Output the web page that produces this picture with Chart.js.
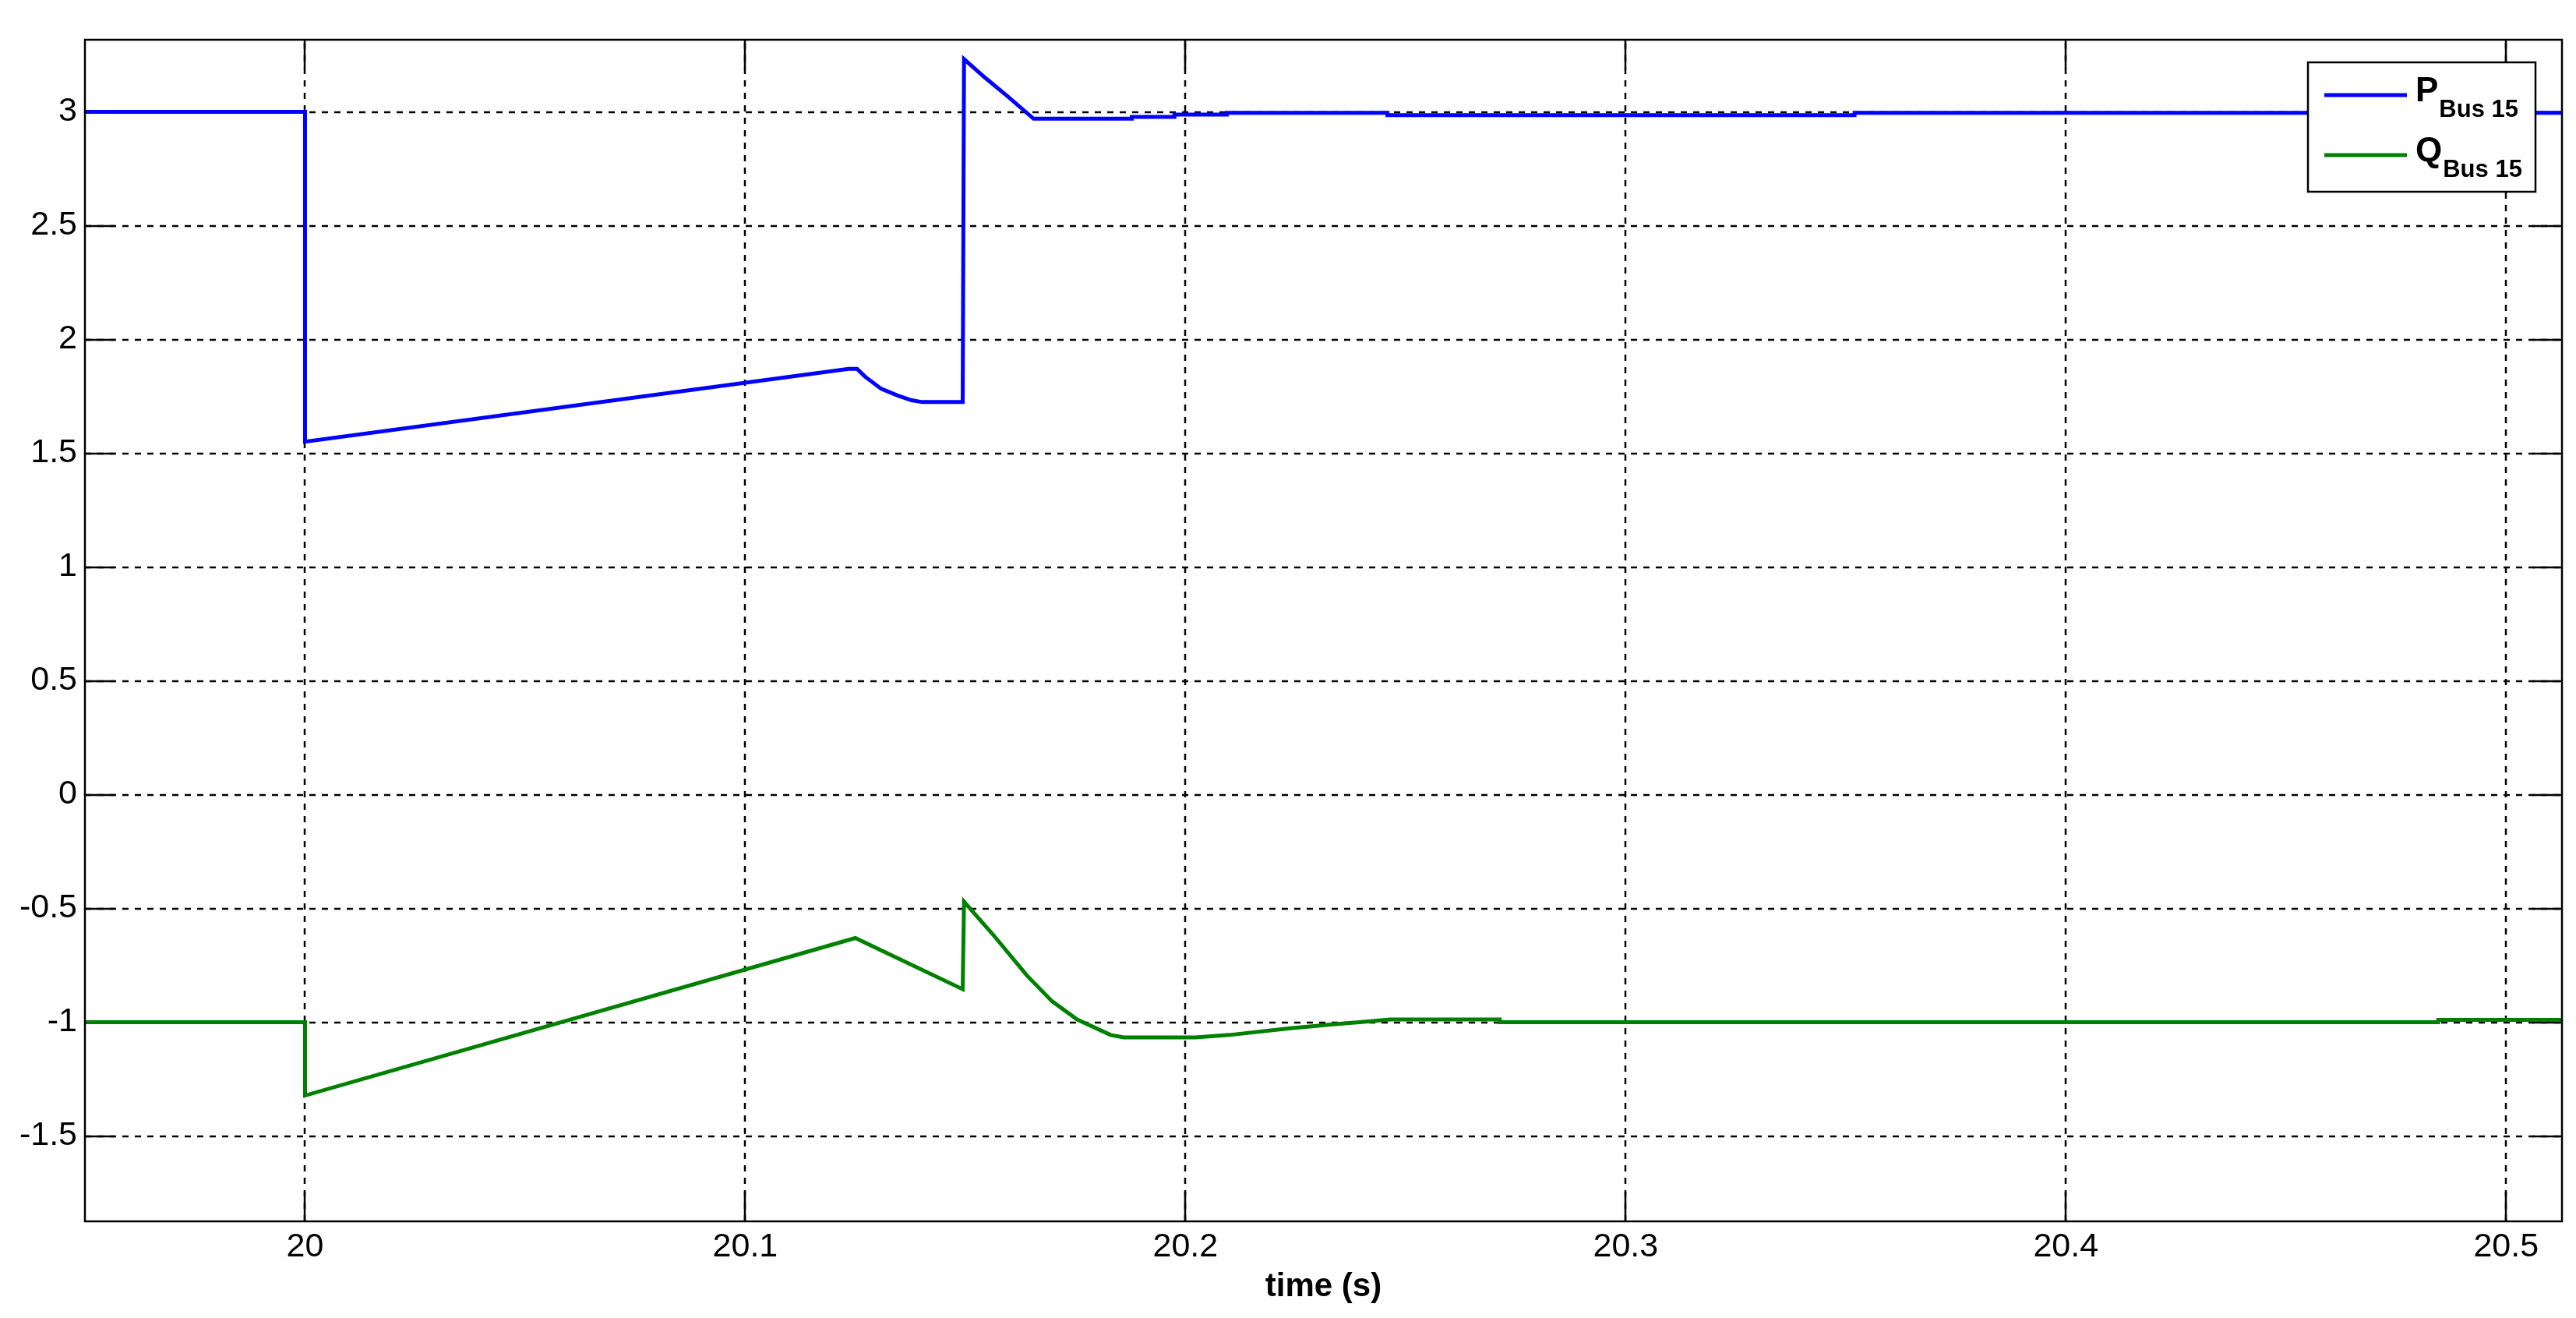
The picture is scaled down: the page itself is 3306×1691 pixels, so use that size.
<!DOCTYPE html>
<html>
<head>
<meta charset="utf-8">
<script src="https://cdn.jsdelivr.net/npm/chart.js@4.4.1/dist/chart.umd.min.js"></script>
<style>
  html, body { margin: 0; padding: 0; background: #fff; }
  #wrap { width: 3306px; height: 1691px; }
</style>
</head>
<body>
<div id="wrap"><canvas id="myChart" width="3306" height="1691"></canvas></div>
<script>
// P at bus 15
const pTime = [19.95, 20.0, 20.0, 20.1235, 20.1254, 20.1272, 20.1309, 20.1347, 20.1378, 20.1402, 20.1494,
  20.1497, 20.1545, 20.1595, 20.1655, 20.1878, 20.1878, 20.1975, 20.1975, 20.2094, 20.2094,
  20.2459, 20.2459, 20.352, 20.352, 20.5127];
const pValue = [3.0, 3.0, 1.551, 1.871, 1.871, 1.837, 1.783, 1.753, 1.733, 1.725, 1.725,
  3.232, 3.15, 3.07, 2.970, 2.970, 2.978, 2.978, 2.988, 2.988, 2.996,
  2.996, 2.986, 2.986, 2.996, 2.996];

// Q at bus 15
const qTime = [19.95, 20.0, 20.0, 20.125, 20.1494, 20.1497, 20.1562, 20.164, 20.1697, 20.1754, 20.183,
  20.186, 20.2023, 20.21, 20.2234, 20.233, 20.241, 20.2465, 20.2714, 20.2714, 20.4846, 20.4846, 20.5127];
const qValue = [-1.0, -1.0, -1.322, -0.630, -0.855, -0.47, -0.613, -0.795, -0.908, -0.988, -1.056,
  -1.067, -1.067, -1.056, -1.027, -1.010, -0.997, -0.988, -0.988, -1.0, -1.0, -0.99, -0.99];

const seriesNames = ["P", "Q"];
const seriesSubs = ["Bus 15", "Bus 15"];
const seriesColors = ["#0000ff", "#008000"];

const xTicks = [20, 20.1, 20.2, 20.3, 20.4, 20.5];
const yTicks = [-1.5, -1, -0.5, 0, 0.5, 1, 1.5, 2, 2.5, 3];

Chart.defaults.font.family = "'Liberation Sans', Arial, sans-serif";
Chart.defaults.color = "#000";

// matlab style grid, inner ticks, box and legend
const matlabAxes = {
  id: "matlabAxes",
  beforeDatasetsDraw(chart) {
    const { ctx, chartArea: a, scales: { x, y } } = chart;
    ctx.save();
    ctx.strokeStyle = "#000";
    ctx.lineWidth = 2.5;
    ctx.setLineDash([8, 8]);
    x.ticks.forEach(t => {
      const px = Math.round(x.getPixelForValue(t.value));
      ctx.beginPath();
      ctx.moveTo(px, a.bottom);
      ctx.lineTo(px, a.top);
      ctx.stroke();
    });
    y.ticks.forEach(t => {
      const py = Math.round(y.getPixelForValue(t.value));
      ctx.beginPath();
      ctx.moveTo(a.left, py);
      ctx.lineTo(a.right, py);
      ctx.stroke();
    });
    ctx.setLineDash([]);
    const tl = 38;
    x.ticks.forEach(t => {
      const px = Math.round(x.getPixelForValue(t.value));
      ctx.beginPath();
      ctx.moveTo(px, a.bottom); ctx.lineTo(px, a.bottom - tl);
      ctx.moveTo(px, a.top); ctx.lineTo(px, a.top + tl);
      ctx.stroke();
    });
    y.ticks.forEach(t => {
      const py = Math.round(y.getPixelForValue(t.value));
      ctx.beginPath();
      ctx.moveTo(a.left, py); ctx.lineTo(a.left + tl, py);
      ctx.moveTo(a.right, py); ctx.lineTo(a.right - tl, py);
      ctx.stroke();
    });
    ctx.restore();
  },
  afterDatasetsDraw(chart) {
    const { ctx, chartArea: a } = chart;
    ctx.save();
    ctx.strokeStyle = "#000";
    ctx.lineWidth = 2.5;
    ctx.strokeRect(a.left, a.top, a.right - a.left, a.bottom - a.top);

    // legend
    const bw = 292, bh = 166;
    const bx = a.right - 34 - bw, by = a.top + 29;
    ctx.fillStyle = "#fff";
    ctx.fillRect(bx, by, bw, bh);
    ctx.lineWidth = 2.5;
    ctx.strokeRect(bx, by, bw, bh);
    const rows = [by + 42, by + 119];
    chart.data.datasets.forEach((ds, i) => {
      const ry = rows[i];
      ctx.strokeStyle = ds.borderColor;
      ctx.lineWidth = 5;
      ctx.beginPath();
      ctx.moveTo(bx + 21, ry);
      ctx.lineTo(bx + 127, ry);
      ctx.stroke();
      ctx.fillStyle = "#000";
      ctx.textBaseline = "alphabetic";
      ctx.textAlign = "left";
      ctx.font = "bold 44px 'Liberation Sans', Arial, sans-serif";
      ctx.fillText(seriesNames[i], bx + 138, ry + 8);
      const w = ctx.measureText(seriesNames[i]).width;
      ctx.font = "bold 31px 'Liberation Sans', Arial, sans-serif";
      ctx.fillText(seriesSubs[i], bx + 138 + w + 1, ry + 28);
    });
    ctx.restore();
  }
};

const ctx = document.getElementById("myChart");
const myChart = new Chart(ctx, {
  type: "scatter",
  data: {
    datasets: [
      {
        label: seriesNames[0] + " " + seriesSubs[0],
        data: pTime.map((t, i) => ({ x: t, y: pValue[i] })),
        showLine: true,
        borderColor: seriesColors[0],
        backgroundColor: seriesColors[0],
        borderWidth: 5,
        pointRadius: 0,
        tension: 0,
      },
      {
        label: seriesNames[1] + " " + seriesSubs[1],
        data: qTime.map((t, i) => ({ x: t, y: qValue[i] })),
        showLine: true,
        borderColor: seriesColors[1],
        backgroundColor: seriesColors[1],
        borderWidth: 5,
        pointRadius: 0,
        tension: 0,
      },
    ],
  },
  options: {
    responsive: false,
    animation: false,
    devicePixelRatio: 1,
    layout: { padding: { top: 51, right: 18, left: 0, bottom: 0 } },
    plugins: {
      legend: { display: false },
      tooltip: { enabled: false },
    },
    scales: {
      x: {
        type: "linear",
        min: 19.95,
        max: 20.5127,
        grid: { display: false, drawTicks: false },
        border: { display: false },
        afterBuildTicks: s => { s.ticks = xTicks.map(v => ({ value: v })); },
        afterFit: s => { s.height = 124; },
        ticks: {
          padding: 7,
          font: { size: 43 },
          color: "#000",
          maxRotation: 0,
          callback: v => String(v),
        },
        title: {
          display: true,
          text: "time (s)",
          font: { size: 42, weight: "bold" },
          color: "#000",
          padding: { top: 0, bottom: 14 },
        },
      },
      y: {
        min: -1.875,
        max: 3.317,
        grid: { display: false, drawTicks: false },
        border: { display: false },
        afterBuildTicks: s => { s.ticks = yTicks.map(v => ({ value: v })); },
        afterFit: s => { s.width = 109; },
        ticks: {
          padding: 10,
          font: { size: 43 },
          color: "#000",
          callback: v => String(v),
        },
      },
    },
  },
  plugins: [matlabAxes],
});
</script>
</body>
</html>
